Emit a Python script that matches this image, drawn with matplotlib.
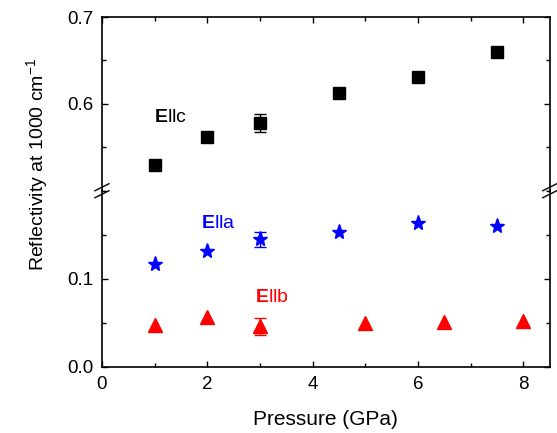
import matplotlib
matplotlib.use("Agg")
import matplotlib.pyplot as plt
from matplotlib.lines import Line2D
from matplotlib.ticker import MultipleLocator

plt.rcParams['font.family'] = ['Liberation Sans', 'DejaVu Sans']
plt.rcParams['mathtext.fontset'] = 'custom'
plt.rcParams['mathtext.rm'] = 'Liberation Sans'
plt.rcParams['mathtext.bf'] = 'Liberation Sans:bold'

# Data
pc = [1, 2, 3, 4.5, 6, 7.5]
rc = [0.530, 0.562, 0.578, 0.612, 0.631, 0.6595]
ec = [0, 0, 0.010, 0, 0, 0]

pa = [1, 2, 3, 4.5, 6, 7.5]
ra = [0.117, 0.132, 0.145, 0.153, 0.1636, 0.160]
ea = [0, 0, 0.0085, 0, 0, 0]

pb = [1, 2, 3, 5, 6.5, 8]
rb = [0.0473, 0.057, 0.0458, 0.0493, 0.0512, 0.0523]
eb = [0, 0, 0.0097, 0, 0, 0]

fig = plt.figure(figsize=(5.57, 4.33), dpi=100)
L, R = 0.183, 0.987
top, mid, bot = 0.9607, 0.5595, 0.1531
ax_u = fig.add_axes([L, mid, R - L, top - mid])
ax_l = fig.add_axes([L, bot, R - L, mid - bot])

for ax in (ax_u, ax_l):
    ax.set_xlim(0, 8.5)
    ax.xaxis.set_major_locator(MultipleLocator(2))
    ax.xaxis.set_minor_locator(MultipleLocator(1))
    ax.tick_params(which='both', direction='in', top=True, right=True, labelsize=13.5)
    ax.tick_params(axis='y', which='major', pad=6)
    ax.tick_params(axis='x', which='major', pad=7)
    ax.tick_params(which='major', length=4, width=1)
    ax.tick_params(which='minor', length=3, width=1)
    for s in ax.spines.values():
        s.set_linewidth(1.2)

ax_u.set_ylim(0.5, 0.7)
ax_u.set_yticks([0.6, 0.7])
ax_u.set_yticklabels(['0.6', '0.7'])
ax_u.yaxis.set_minor_locator(MultipleLocator(0.05))
ax_u.spines['bottom'].set_visible(False)
ax_u.tick_params(which='both', bottom=False, labelbottom=False)

ax_l.set_ylim(0, 0.2)
ax_l.set_yticks([0.0, 0.1])
ax_l.set_yticklabels(['0.0', '0.1'])
ax_l.yaxis.set_minor_locator(MultipleLocator(0.05))
ax_l.spines['top'].set_visible(False)
ax_l.tick_params(which='both', top=False)


def draw(ax, x, y, e, marker, color, ms):
    ax.plot(x, y, linestyle='none', marker=marker, color=color, ms=ms)
    xe = [xi for xi, ei in zip(x, e) if ei > 0]
    ye = [yi for yi, ei in zip(y, e) if ei > 0]
    ee = [ei for ei in e if ei > 0]
    ax.errorbar(xe, ye, yerr=ee, fmt='none', ecolor=color, capsize=4, elinewidth=1)


draw(ax_u, pc, rc, ec, 's', 'black', 8)
draw(ax_l, pa, ra, ea, '*', 'blue', 11)
draw(ax_l, pb, rb, eb, '^', 'red', 10)

ax_u.text(0.99, 0.584, r'$\mathbf{E}$llc', color='black', fontsize=14, va='center', ha='left')
ax_l.text(1.88, 0.163, r'$\mathbf{E}$lla', color='blue', fontsize=14, va='center', ha='left')
ax_l.text(2.90, 0.0787, r'$\mathbf{E}$llb', color='red', fontsize=14, va='center', ha='left')

ax_l.set_xlabel('Pressure (GPa)', fontsize=15, labelpad=12)
fig.text(0.068, 0.621, r'Reflectivity at 1000 cm$^{-1}$', rotation=90,
         fontsize=14, ha='center', va='center')

# break marks
W, H = 557.0, 433.0
for xc in (L, R):
    for dy in (-3.5, 3.5):
        yc = mid + dy / H
        fig.add_artist(Line2D([xc - 7 / W, xc + 7 / W], [yc - 3.5 / H, yc + 3.5 / H],
                              color='black', lw=1.0, transform=fig.transFigure))

fig.savefig('out.png', dpi=100)
